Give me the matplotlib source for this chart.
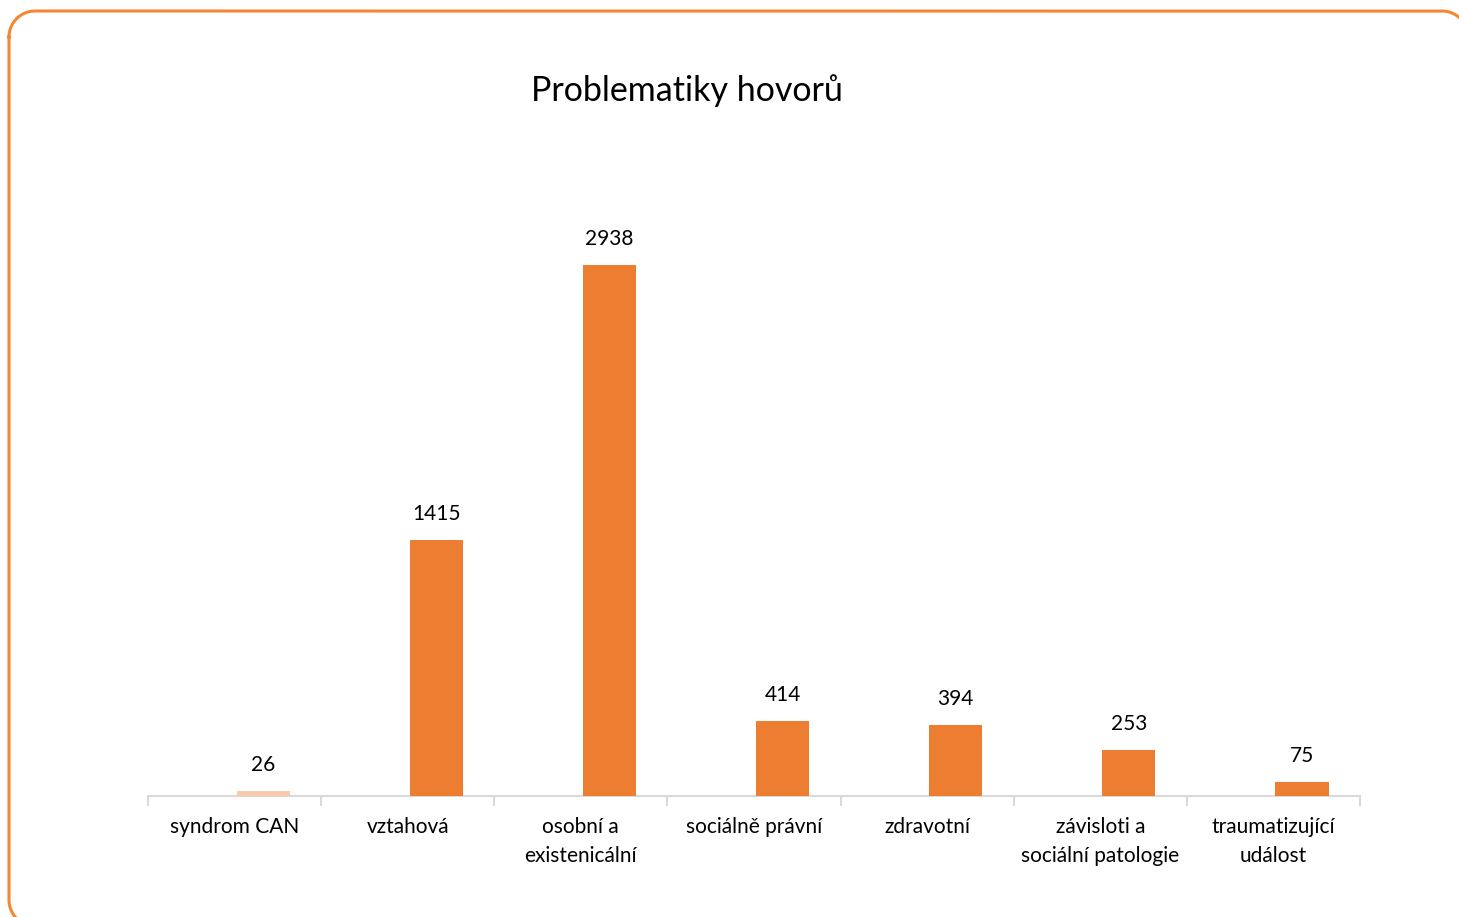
import matplotlib
matplotlib.use("Agg")
import matplotlib.pyplot as plt
import numpy as np

categories = ["syndrom CAN", "vztahová", "osobní a\nexistenicální", "sociálně právní",
              "zdravotní", "závisloti a\nsociální patologie", "traumatizující\nudálost"]
values = [26, 1415, 2938, 414, 394, 253, 75]
bar_colors = ["#F8CBAD", "#ED7D31", "#ED7D31", "#ED7D31", "#ED7D31", "#ED7D31", "#ED7D31"]
title = "Problematiky hovorů"

plt.rcParams['font.family'] = ['Lato', 'DejaVu Sans']

W, H = 1459, 917
fig = plt.figure(figsize=(W / 100, H / 100), dpi=100)

# background axes in pixel coordinates for the rounded border (drawn as a polyline)
bg = fig.add_axes([0, 0, 1, 1])
bg.set_xlim(0, W)
bg.set_ylim(H, 0)
bg.axis("off")
L, R, T, B, r = 9, 1468, 11, 926, 26
def arc(cx, cy, a0, a1):
    t = np.radians(np.linspace(a0, a1, 40))
    return cx + r * np.cos(t), cy + r * np.sin(t)
pts_x, pts_y = [], []
for cx, cy, a0, a1 in [(L + r, T + r, 180, 270), (R - r, T + r, 270, 360),
                       (R - r, B - r, 0, 90), (L + r, B - r, 90, 180)]:
    ax_, ay_ = arc(cx, cy, a0, a1)
    pts_x.extend(ax_); pts_y.extend(ay_)
pts_x.append(pts_x[0]); pts_y.append(pts_y[0])
bg.plot(pts_x, pts_y, color="#F58634", linewidth=2.2, solid_joinstyle="round")

ymax = 3300
px_per_unit = (796 - 265) / 2938.0
ax_h_px = ymax * px_per_unit
ax_left, ax_right = 148, 1360
ax_bottom = 917 - 796
ax = fig.add_axes([ax_left / W, ax_bottom / H, (ax_right - ax_left) / W, ax_h_px / H])
ax.patch.set_alpha(0)

n = len(categories)
xs = list(range(n))
bar_x = [x + 0.165 for x in xs]
ax.bar(bar_x, values, width=0.307, color=bar_colors, zorder=3)
for bx, v in zip(bar_x, values):
    ax.annotate(str(v), (bx, v), xytext=(0, 16), textcoords="offset pixels",
                ha="center", va="bottom", fontsize=15, color="#000000")

ax.set_xlim(-0.5, n - 0.5)
ax.set_ylim(0, ymax)
for s in ["top", "right", "left"]:
    ax.spines[s].set_visible(False)
ax.spines["bottom"].set_color("#D9D9D9")
ax.spines["bottom"].set_linewidth(1.5)
ax.set_yticks([])
ax.set_xticks([x - 0.5 for x in xs] + [n - 0.5])
ax.set_xticklabels([])
ax.tick_params(axis="x", which="major", length=7, width=1.5, color="#D9D9D9")
ax.set_xticks(xs, minor=True)
ax.set_xticklabels(categories, minor=True, fontsize=15, color="#000000", linespacing=1.6)
ax.tick_params(axis="x", which="minor", length=0, pad=15)

fig.text(687 / W, 1 - 91 / H, title, ha="center", va="center", fontsize=24.5, color="#000000")

fig.savefig("out.png", dpi=100)
